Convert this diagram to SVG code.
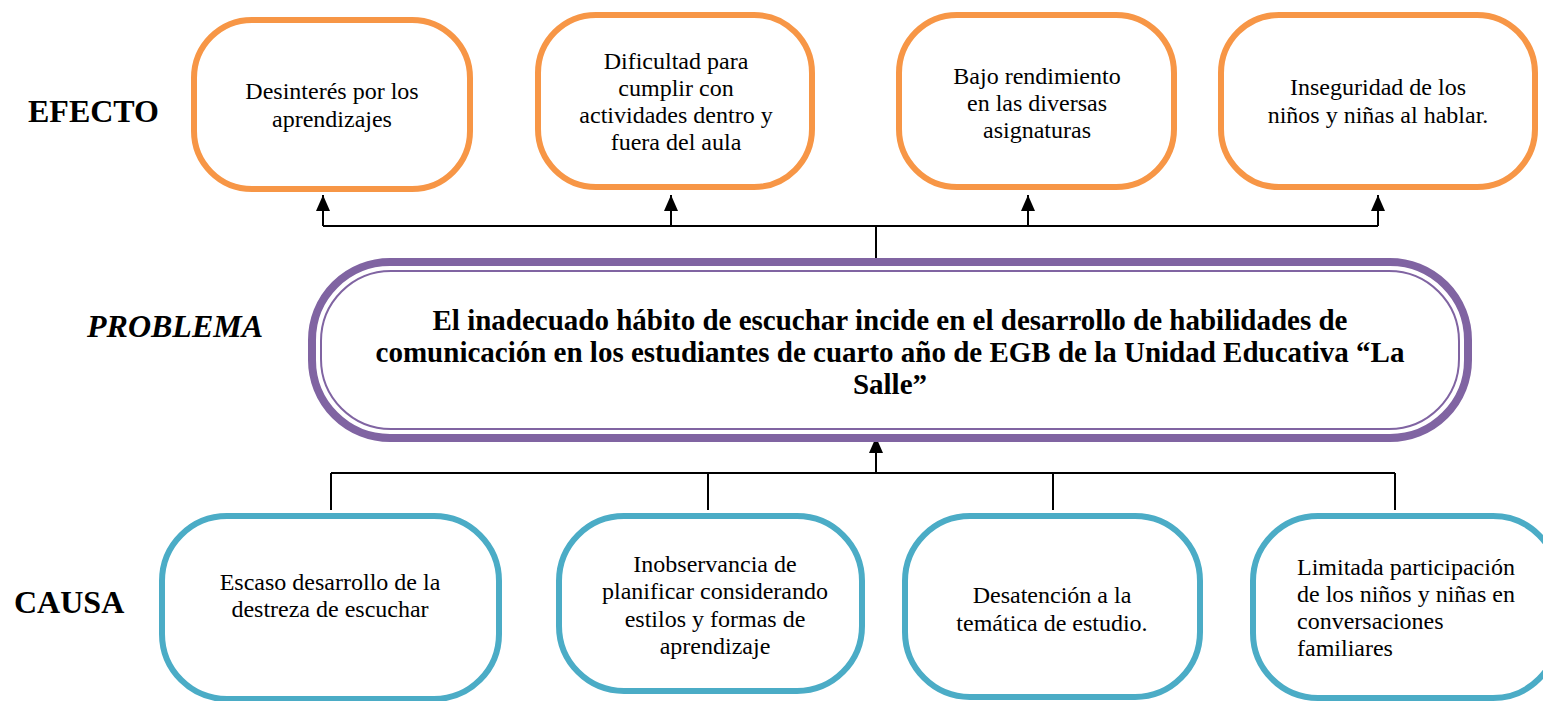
<svg xmlns="http://www.w3.org/2000/svg" width="1543" height="701" viewBox="0 0 1543 701">
<style>
.eff{fill:#fff;stroke:#F79646;stroke-width:6}
.cau{fill:#fff;stroke:#4BACC6;stroke-width:6}
.t{font-size:24px;fill:#000;text-anchor:middle}
.tl{text-anchor:start}
.lab{font-size:32px;font-weight:bold;fill:#000}
.prob{font-size:29px;font-weight:bold;fill:#000;text-anchor:middle}
.c{fill:none;stroke:#000;stroke-width:2}
</style>
<defs>
<marker id="ah" markerUnits="userSpaceOnUse" markerWidth="16" markerHeight="14" refX="16" refY="7" orient="auto">
<path d="M0,0 L16,7 L0,14 z" fill="#000"/>
</marker>
</defs>
<rect width="1543" height="701" fill="#fff"/>

<g font-family="Liberation Serif, DejaVu Serif, serif">
<g id="labels">
<text class="lab" x="28" y="122">EFECTO</text>
<text class="lab" x="87" y="337" font-style="italic">PROBLEMA</text>
<text class="lab" x="14" y="613">CAUSA</text>
</g>

<g id="connectors">
<path class="c" d="M323,226 H1378 M876,226 V258"/>
<path class="c" d="M323,226 V195" marker-end="url(#ah)"/>
<path class="c" d="M671,226 V195" marker-end="url(#ah)"/>
<path class="c" d="M1028,226 V195" marker-end="url(#ah)"/>
<path class="c" d="M1378,226 V195" marker-end="url(#ah)"/>
<path class="c" d="M331,473 H1395 M331,473 V510 M708,473 V510 M1053,473 V510 M1395,473 V510"/>
<path class="c" d="M876,473 V437" marker-end="url(#ah)"/>
</g>

<g id="efecto1">
<rect class="eff" x="194" y="20" width="276" height="169" rx="58"/>
<text class="t" x="332" y="99">Desinterés por los</text>
<text class="t" x="332" y="127">aprendizajes</text>
</g>
<g id="efecto2">
<rect class="eff" x="538" y="15" width="274" height="172" rx="58"/>
<text class="t" x="676" y="69">Dificultad para</text>
<text class="t" x="676" y="96">cumplir con</text>
<text class="t" x="676" y="123">actividades dentro y</text>
<text class="t" x="676" y="150">fuera del aula</text>
</g>
<g id="efecto3">
<rect class="eff" x="899" y="15" width="275" height="172" rx="58"/>
<text class="t" x="1037" y="84">Bajo rendimiento</text>
<text class="t" x="1037" y="111">en las diversas</text>
<text class="t" x="1037" y="138">asignaturas</text>
</g>
<g id="efecto4">
<rect class="eff" x="1221" y="15" width="314" height="172" rx="58"/>
<text class="t" x="1378" y="95">Inseguridad de los</text>
<text class="t" x="1378" y="123">niños y niñas al hablar.</text>
</g>

<g id="problema">
<rect x="312" y="262" width="1156" height="176" rx="78" fill="#fff" stroke="#8064A2" stroke-width="8"/>
<rect x="321" y="271" width="1138" height="158" rx="70" fill="none" stroke="#8064A2" stroke-width="2"/>
<text class="prob" x="890" y="330">El inadecuado hábito de escuchar incide en el desarrollo de habilidades de</text>
<text class="prob" x="890" y="362">comunicación en los estudiantes de cuarto año de EGB de la Unidad Educativa “La</text>
<text class="prob" x="890" y="394">Salle”</text>
</g>

<g id="causa1">
<rect class="cau" x="162" y="516" width="337" height="183" rx="65"/>
<text class="t" x="330" y="590">Escaso desarrollo de la</text>
<text class="t" x="330" y="617">destreza de escuchar</text>
</g>
<g id="causa2">
<rect class="cau" x="559" y="516" width="303" height="175" rx="65"/>
<text class="t" x="715" y="572">Inobservancia de</text>
<text class="t" x="715" y="599">planificar considerando</text>
<text class="t" x="715" y="627">estilos y formas de</text>
<text class="t" x="715" y="654">aprendizaje</text>
</g>
<g id="causa3">
<rect class="cau" x="905" y="516" width="295" height="181" rx="65"/>
<text class="t" x="1052" y="603">Desatención a la</text>
<text class="t" x="1052" y="631">temática de estudio.</text>
</g>
<g id="causa4">
<rect class="cau" x="1253" y="516" width="305" height="182" rx="65"/>
<text class="t tl" x="1297" y="575">Limitada participación</text>
<text class="t tl" x="1297" y="602">de los niños y niñas en</text>
<text class="t tl" x="1297" y="629">conversaciones</text>
<text class="t tl" x="1297" y="656">familiares</text>
</g>
</g>
</svg>
